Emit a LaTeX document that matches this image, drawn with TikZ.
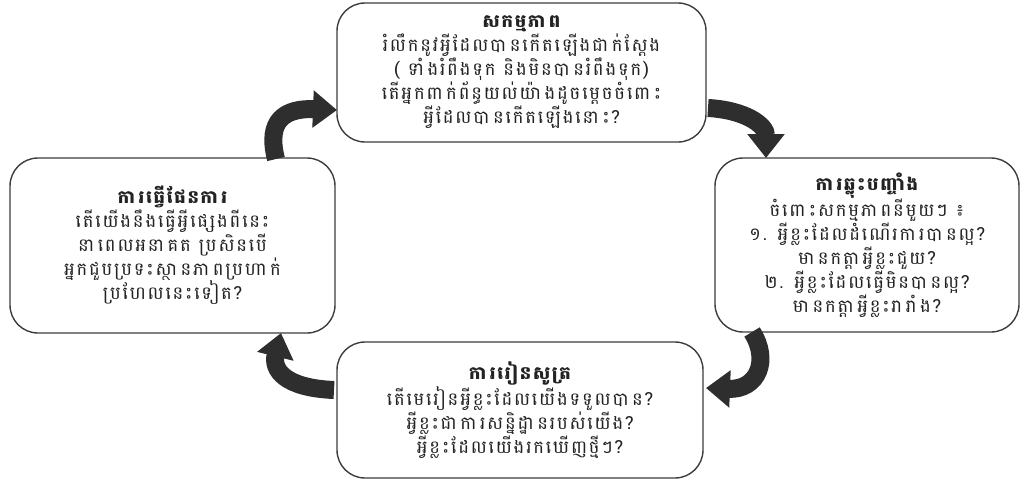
\documentclass[tikz,border=0pt]{standalone}
\usepackage{fontspec}
\newfontfamily\khmer[Script=Khmer,LetterSpace=10]{Battambang}
\usetikzlibrary{arrows.meta}
\definecolor{ink}{HTML}{222222}
\definecolor{edge}{HTML}{3C3C3C}
\definecolor{arrowfill}{HTML}{2E2E2E}
\tikzset{
  stage/.style={draw=edge, line width=1.4pt, rounded corners=28pt, align=center,
    text=ink, font=\khmer\fontsize{18}{24}\selectfont, inner sep=0pt},
  cyclearrow/.style={draw=arrowfill, line width=18pt,
    -{Triangle[width=36pt,length=24pt]}},
}
\newcommand\stagetitle[1]{{\bfseries #1}}
\begin{document}
\begin{tikzpicture}[x=1pt,y=-1pt]
\useasboundingbox (0,0) rectangle (1025,488);

% the four stages of the cycle
\node[stage, minimum width=369pt, minimum height=139pt] (act) at (521.5,72.5)
  {\stagetitle{សកម្មភាព}\\
   រំលឹកនូវអ្វីដែលបានកើតឡើងជាក់ស្តែង\\
   ( ទាំងរំពឹងទុក និងមិនបានរំពឹងទុក)\\
   តើអ្នកពាក់ព័ន្ធយល់យ៉ាងដូចម្តេចចំពោះ\\
   អ្វីដែលបានកើតឡើងនោះ?};

\node[stage, minimum width=304pt, minimum height=174pt] (reflect) at (867,245)
  {\stagetitle{ការឆ្លុះបញ្ចាំង}\\
   ចំពោះសកម្មភាពនីមួយៗ ៖\\
   ១. អ្វីខ្លះដែលដំណើរការបានល្អ?\\
   មានកត្តាអ្វីខ្លះជួយ?\\
   ២. អ្វីខ្លះដែលធ្វើមិនបានល្អ?\\
   មានកត្តាអ្វីខ្លះរារាំង?};

\node[stage, minimum width=366pt, minimum height=136pt] (learn) at (520,410)
  {\stagetitle{ការរៀនសូត្រ}\\
   តើមេរៀនអ្វីខ្លះដែលយើងទទួលបាន?\\
   អ្វីខ្លះជាការសន្និដ្ឋានរបស់យើង?\\
   អ្វីខ្លះដែលយើងរកឃើញថ្មីៗ?};

\node[stage, minimum width=325pt, minimum height=175pt] (plan) at (172.5,245.5)
  {\stagetitle{ការធ្វើផែនការ}\\
   តើយើងនឹងធ្វើអ្វីផ្សេងពីនេះ\\
   នាពេលអនាគត ប្រសិនបើ\\
   អ្នកជួបប្រទះស្ថានភាពប្រហាក់\\
   ប្រហែលនេះទៀត?};

% end points of the curved arrows
\coordinate (a1s) at (276,159);
\coordinate (a1e) at (337,110);
\coordinate (a2s) at (708,108);
\coordinate (a2e) at (766,158);
\coordinate (a3s) at (752,332);
\coordinate (a3e) at (706,388);
\coordinate (a4s) at (334,390);
\coordinate (a4e) at (281,333);

% clockwise curved arrows between the stages
\draw[cyclearrow] (a1s) .. controls (266,120) and (285,108) .. (a1e);
\draw[cyclearrow] (a2s) .. controls (745,110) and (766,125) .. (a2e);
\draw[cyclearrow] (a3s) .. controls (770,360) and (758,390) .. (a3e);
\draw[cyclearrow] (a4s) .. controls (285,388) and (272,370) .. (a4e);
\end{tikzpicture}
\end{document}
